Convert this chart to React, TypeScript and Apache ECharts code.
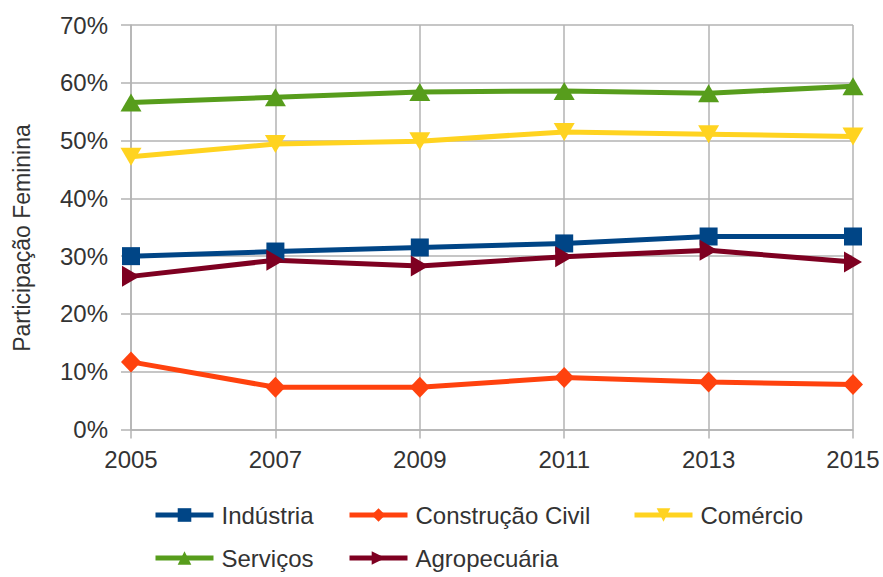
import React, { useEffect, useRef } from "react";
import * as echarts from "echarts";

const years = ["2005", "2007", "2009", "2011", "2013", "2015"];

const industria = [30.0, 30.8, 31.5, 32.2, 33.4, 33.4];
const construcao = [11.7, 7.3, 7.3, 9.0, 8.2, 7.8];
const comercio = [47.2, 49.4, 49.9, 51.5, 51.1, 50.7];
const servicos = [56.6, 57.5, 58.4, 58.6, 58.2, 59.4];
const agropecuaria = [26.5, 29.3, 28.3, 29.9, 31.0, 29.0];

const seriesNames = ["Indústria", "Construção Civil", "Comércio", "Serviços", "Agropecuária"];
const seriesColors = ["#004586", "#ff420e", "#ffd320", "#579d1c", "#7e0021"];

const FONT = "'Liberation Sans', Arial, sans-serif";
const GRID_COLOR = "#b3b3b3";
const TEXT_COLOR = "#333333";

export default function App() {
  const ref = useRef<HTMLDivElement>(null);

  useEffect(() => {
    document.body.style.margin = "0";
    if (!ref.current) return;
    const chart = echarts.init(ref.current, undefined, { renderer: "svg" });

    const values = [industria, construcao, comercio, servicos, agropecuaria];
    const symbols = ["rect", "diamond", "triangle", "triangle", "triangle"];
    const rotations = [0, 0, 180, 0, -90];
    const sizes: any[] = [18, [20, 21], [21, 18], [21, 18], [21, 18]];

    const series = seriesNames.map((name, i) => ({
      name,
      type: "line",
      data: values[i],
      symbol: symbols[i],
      symbolSize: sizes[i],
      symbolRotate: rotations[i],
      showAllSymbol: true,
      color: seriesColors[i],
      lineStyle: { width: 5, color: seriesColors[i] },
      itemStyle: { color: seriesColors[i] },
    }));

    // legend entries placed individually across two rows
    const legendPos = [
      { left: 153, top: 503 },
      { left: 347, top: 503 },
      { left: 632, top: 503 },
      { left: 153, top: 546 },
      { left: 347, top: 546 },
    ];
    const legends = seriesNames.map((name, i) => ({
      data: [name],
      left: legendPos[i].left,
      top: legendPos[i].top,
      itemWidth: 58,
      itemHeight: 17,
      itemGap: 0,
      padding: 0,
      lineStyle: { width: 5 },
      textStyle: {
        fontFamily: FONT,
        fontSize: 24,
        color: TEXT_COLOR,
        padding: [0, 0, 0, 3],
      },
    }));

    chart.setOption({
      animation: false,
      backgroundColor: "#ffffff",
      grid: { left: 131, right: 30, top: 25, bottom: 147.5, containLabel: false },
      xAxis: {
        type: "category",
        data: years,
        boundaryGap: false,
        axisLine: { show: true, lineStyle: { color: GRID_COLOR, width: 1.5 } },
        axisTick: { show: true, length: 9, lineStyle: { color: GRID_COLOR, width: 1.5 } },
        splitLine: { show: true, lineStyle: { color: GRID_COLOR, width: 1.5 } },
        axisLabel: { color: TEXT_COLOR, fontSize: 24, fontFamily: FONT, margin: 18 },
      },
      yAxis: {
        type: "value",
        min: 0,
        max: 70,
        interval: 10,
        axisLine: { show: true, lineStyle: { color: GRID_COLOR, width: 1.5 } },
        axisTick: { show: true, length: 10, lineStyle: { color: GRID_COLOR, width: 1.5 } },
        splitLine: { show: true, lineStyle: { color: GRID_COLOR, width: 1.5 } },
        axisLabel: {
          color: TEXT_COLOR,
          fontSize: 24,
          fontFamily: FONT,
          margin: 23,
          formatter: "{value}%",
        },
      },
      legend: legends,
      graphic: [
        {
          type: "text",
          x: 22,
          y: 238,
          rotation: Math.PI / 2,
          style: {
            text: "Participação Feminina",
            font: `23px ${FONT}`,
            fill: TEXT_COLOR,
            align: "center",
            verticalAlign: "middle",
          },
        },
      ],
      series,
    });

    return () => chart.dispose();
  }, []);

  return <div ref={ref} style={{ width: 883, height: 577 }} />;
}
